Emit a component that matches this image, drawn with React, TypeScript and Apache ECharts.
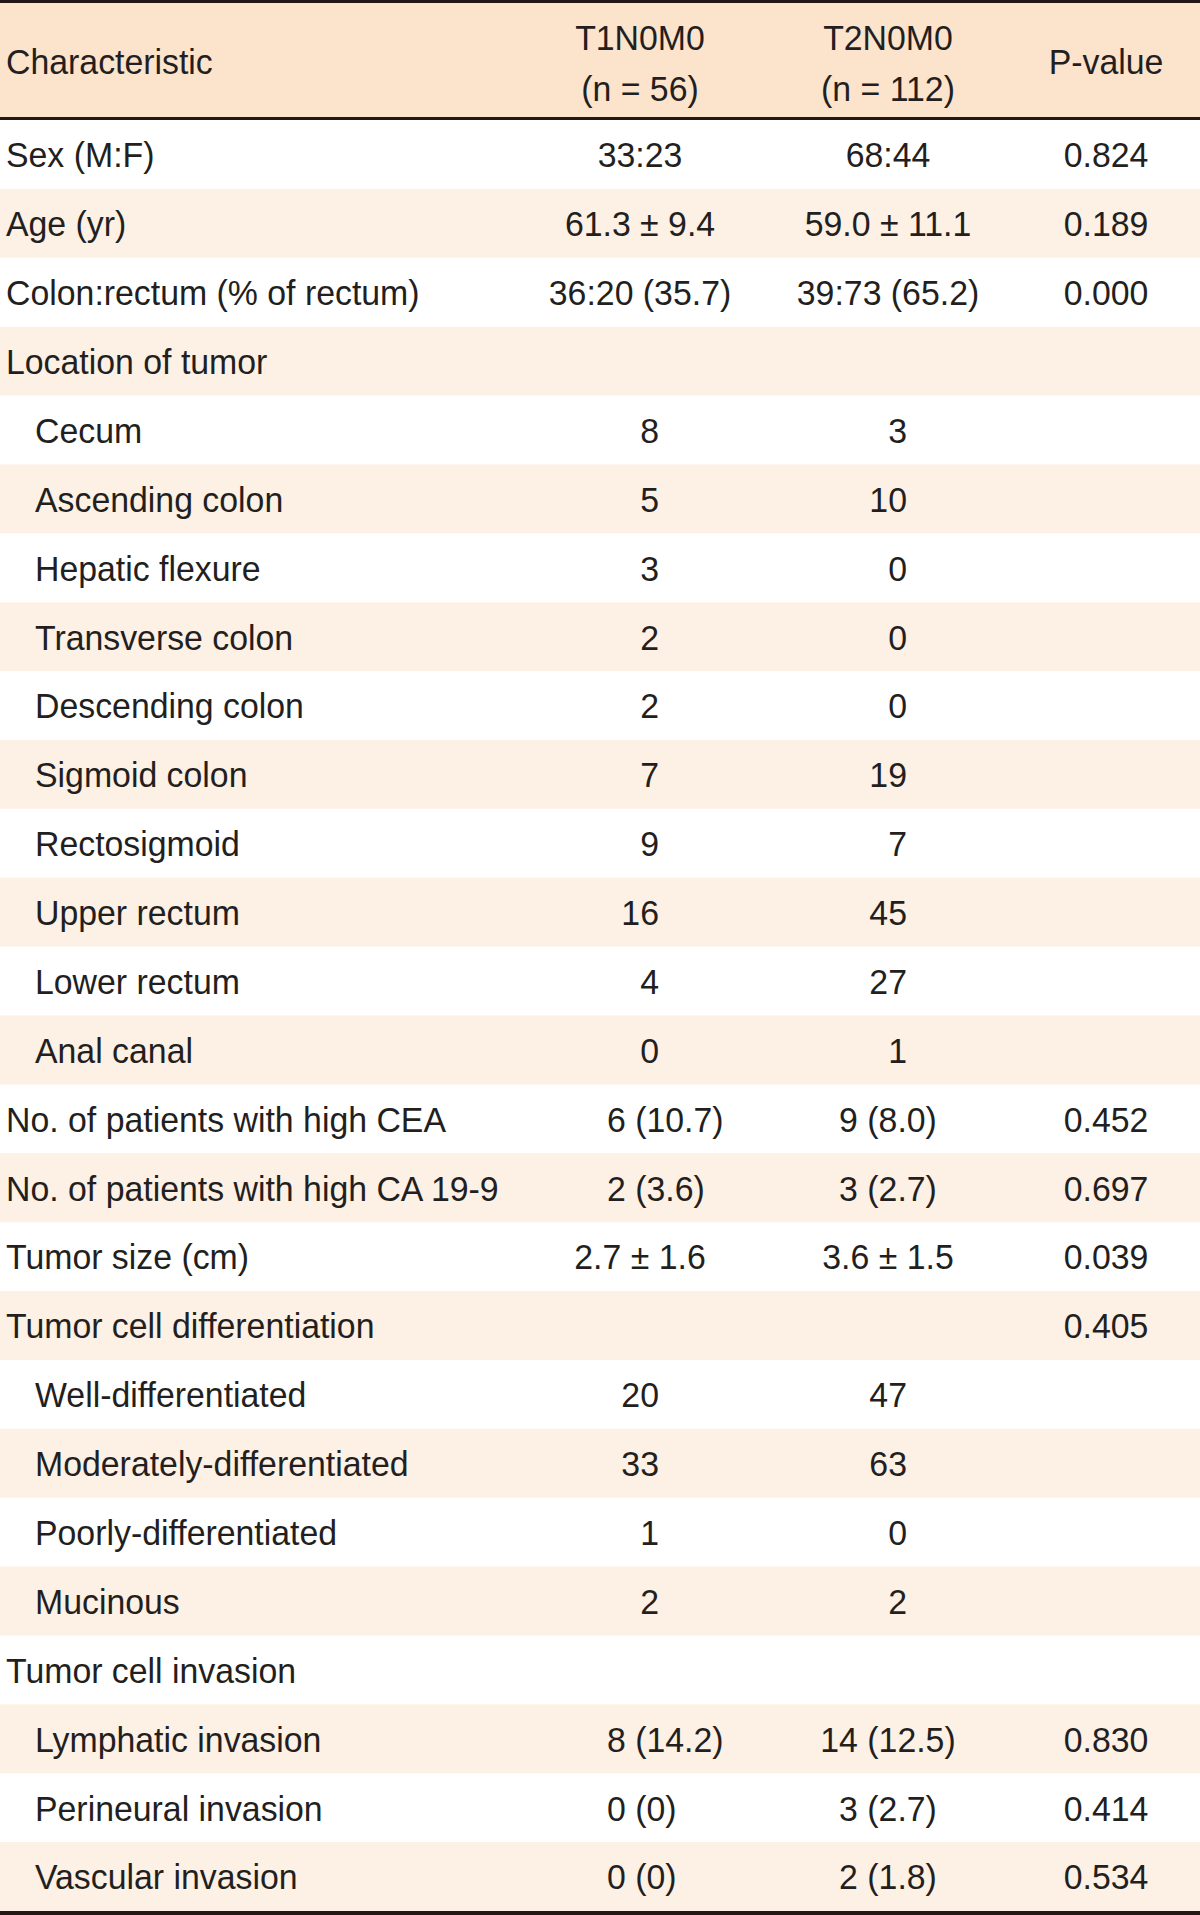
import React, { useEffect, useRef } from "react";
import * as echarts from "echarts";

const headerCols = ["Characteristic", "T1N0M0\n(n = 56)", "T2N0M0\n(n = 112)", "P-value"];

const labels = [
  "Sex (M:F)",
  "Age (yr)",
  "Colon:rectum (% of rectum)",
  "Location of tumor",
  "Cecum",
  "Ascending colon",
  "Hepatic flexure",
  "Transverse colon",
  "Descending colon",
  "Sigmoid colon",
  "Rectosigmoid",
  "Upper rectum",
  "Lower rectum",
  "Anal canal",
  "No. of patients with high CEA",
  "No. of patients with high CA 19-9",
  "Tumor size (cm)",
  "Tumor cell differentiation",
  "Well-differentiated",
  "Moderately-differentiated",
  "Poorly-differentiated",
  "Mucinous",
  "Tumor cell invasion",
  "Lymphatic invasion",
  "Perineural invasion",
  "Vascular invasion",
];

const indentLevel = [0, 0, 0, 0, 1, 1, 1, 1, 1, 1, 1, 1, 1, 1, 0, 0, 0, 0, 1, 1, 1, 1, 0, 1, 1, 1];

const t1Values = [
  "33:23", "61.3 ± 9.4", "36:20 (35.7)", "",
  "8", "5", "3", "2", "2", "7", "9", "16", "4", "0",
  "6 (10.7)", "2 (3.6)", "2.7 ± 1.6", "",
  "20", "33", "1", "2", "",
  "8 (14.2)", "0 (0)", "0 (0)",
];

const t2Values = [
  "68:44", "59.0 ± 11.1", "39:73 (65.2)", "",
  "3", "10", "0", "0", "0", "19", "7", "45", "27", "1",
  "9 (8.0)", "3 (2.7)", "3.6 ± 1.5", "",
  "47", "63", "0", "2", "",
  "14 (12.5)", "3 (2.7)", "2 (1.8)",
];

const pValues = [
  "0.824", "0.189", "0.000", "",
  "", "", "", "", "", "", "", "", "", "",
  "0.452", "0.697", "0.039", "0.405",
  "", "", "", "", "",
  "0.830", "0.414", "0.534",
];

// layout constants
const W = 1200;
const H = 1915;
const HEADER_H = 120;
const BOTTOM = 4;
const LABEL_X = 6;
const INDENT_X = 35;
const COL1 = 640;
const COL2 = 888;
const COLP = 1106;
const FONT = "Liberation Sans, Arial, sans-serif";
const FS = 36;
const SX = 0.94;
const TEXT_COLOR = "#231f20";
const HEADER_BG = "#fce3cc";
const STRIPE_BG = "#fdf0e4";
const LINE_COLOR = "#231815";

function txt(text: string, x: number, y: number, align: string) {
  return {
    type: "text",
    x,
    y,
    scaleX: SX,
    style: {
      text,
      fill: TEXT_COLOR,
      fontSize: FS,
      fontFamily: FONT,
      align,
      verticalAlign: "middle",
    },
  };
}

function cellText(val: string, col: number, anchorX: (v: number) => number, cy: number) {
  if (!val) return null;
  const base = col === 1 ? COL1 : COL2;
  if (/^\d+$/.test(val)) {
    return txt(val, anchorX(base + 19), cy, "right");
  }
  if (col === 1 && /^\d+ \(/.test(val)) {
    return txt(val, anchorX(base - 33), cy, "left");
  }
  return txt(val, anchorX(base), cy, "center");
}

export default function App() {
  const ref = useRef<HTMLDivElement>(null);

  useEffect(() => {
    document.body.style.margin = "0";
    const chart = echarts.init(ref.current as HTMLDivElement, null, { renderer: "svg" });

    const rowData = labels.map((_, i) => [0, i]);

    const option = {
      animation: false,
      backgroundColor: "#ffffff",
      grid: { left: 0, right: 0, top: HEADER_H, bottom: BOTTOM, containLabel: false },
      xAxis: { type: "value", min: 0, max: W, show: false },
      yAxis: { type: "value", min: 0, max: labels.length, inverse: true, show: false },
      graphic: [
        { type: "rect", z: 1, shape: { x: 0, y: 0, width: W, height: HEADER_H }, style: { fill: HEADER_BG } },
        { type: "rect", z: 100, shape: { x: 0, y: 0, width: W, height: 3 }, style: { fill: LINE_COLOR } },
        { type: "rect", z: 100, shape: { x: 0, y: HEADER_H - 3, width: W, height: 3 }, style: { fill: LINE_COLOR } },
        { type: "rect", z: 100, shape: { x: 0, y: H - BOTTOM, width: W, height: BOTTOM }, style: { fill: LINE_COLOR } },
        { ...txt(headerCols[0], LABEL_X, 61, "left"), z: 10 },
        { ...txt(headerCols[1].split("\n")[0], COL1, 37, "center"), z: 10 },
        { ...txt(headerCols[1].split("\n")[1], COL1, 88, "center"), z: 10 },
        { ...txt(headerCols[2].split("\n")[0], COL2, 37, "center"), z: 10 },
        { ...txt(headerCols[2].split("\n")[1], COL2, 88, "center"), z: 10 },
        { ...txt(headerCols[3], COLP, 61, "center"), z: 10 },
      ],
      series: [
        {
          type: "custom",
          coordinateSystem: "cartesian2d",
          clip: false,
          encode: { x: 0, y: 1 },
          data: rowData,
          renderItem: (params: any, api: any) => {
            const i = api.value(1);
            const topLeft = api.coord([0, i]);
            const botRight = api.coord([W, i + 1]);
            const h = botRight[1] - topLeft[1];
            const cy = topLeft[1] + h / 2;
            const ax = (v: number) => api.coord([v, i])[0];
            const children: any[] = [];
            if (i % 2 === 1) {
              children.push({
                type: "rect",
                shape: { x: topLeft[0], y: topLeft[1], width: botRight[0] - topLeft[0], height: h },
                style: { fill: STRIPE_BG },
              });
            }
            children.push(txt(labels[i], ax(indentLevel[i] ? INDENT_X : LABEL_X), cy, "left"));
            const c1 = cellText(t1Values[i], 1, ax, cy);
            if (c1) children.push(c1);
            const c2 = cellText(t2Values[i], 2, ax, cy);
            if (c2) children.push(c2);
            if (pValues[i]) children.push(txt(pValues[i], ax(COLP), cy, "center"));
            return { type: "group", children };
          },
        },
      ],
    };

    chart.setOption(option as any);
    return () => chart.dispose();
  }, []);

  return (
    <div
      ref={ref}
      style={{ position: "absolute", left: 0, top: 0, width: W, height: H }}
    />
  );
}
